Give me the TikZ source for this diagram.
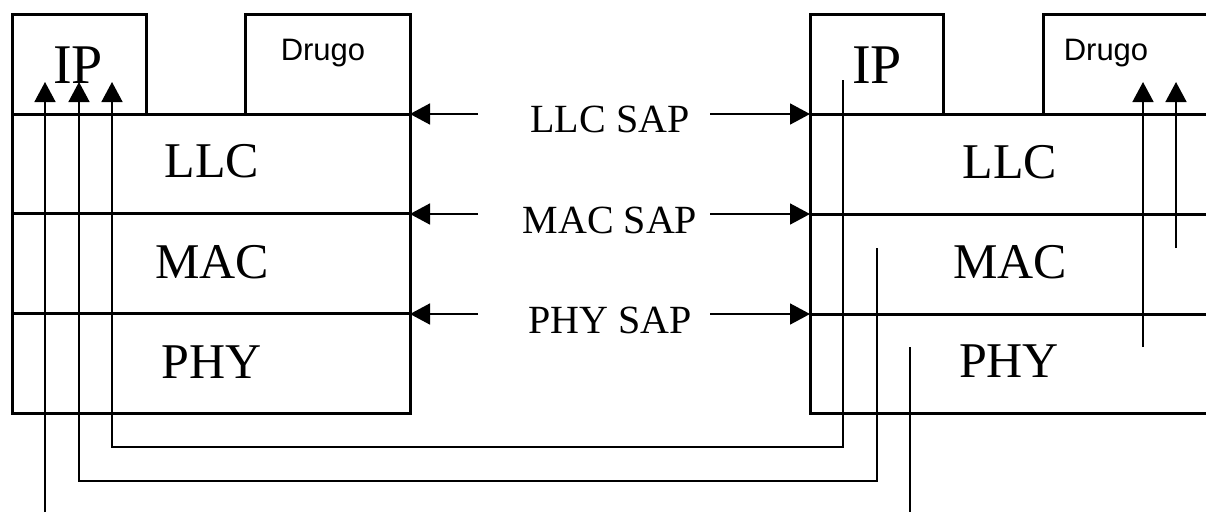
\documentclass[tikz,border=0pt]{standalone}
\usepackage{fontspec}
\newfontfamily\tnr{Liberation Serif}
\newfontfamily\arl{Liberation Sans}
\usetikzlibrary{arrows.meta}
\begin{document}
\begin{tikzpicture}[x=1pt,y=-1pt,
  box/.style={line width=3pt,line join=miter,line cap=rect},
  thin/.style={line width=1.6pt},
  arr/.style={thin,-{Triangle[length=20pt,width=21pt]}},
  lay/.style={anchor=base,inner sep=0pt,font=\tnr\fontsize{50}{60}\selectfont},
  ip/.style={anchor=base,inner sep=0pt,font=\tnr\fontsize{56}{66}\selectfont},
  sap/.style={anchor=base,inner sep=0pt,font=\tnr\fontsize{40}{48}\selectfont},
  drugo/.style={anchor=base,inner sep=0pt,font=\arl\fontsize{31}{38}\selectfont}]
\useasboundingbox (0,0) rectangle (1206,512);
\clip (0,0) rectangle (1206,512);
% left stack
\draw[box] (146,114) -- (146,14) -- (12,14) -- (12,413) -- (410,413) -- (410,14) -- (245,14) -- (245,114);
\draw[box] (12,114) -- (410,114);
\draw[box] (12,213) -- (410,213);
\draw[box] (12,313) -- (410,313);
% right stack
\draw[box] (1206,413) -- (810,413) -- (810,14) -- (943,14) -- (943,114);
\draw[box] (1206,14) -- (1043,14) -- (1043,114);
\draw[box] (810,114) -- (1206,114);
\draw[box] (810,214) -- (1206,214);
\draw[box] (810,314) -- (1206,314);
% labels
\node[ip] (ipL) at (78,83) {IP};
\node[drugo] (drL) at (323,60) {Drugo};
\node[lay] (llcL) at (212,177) {LLC};
\node[lay] (macL) at (212,278) {MAC};
\node[lay] (phyL) at (212,378) {PHY};
\node[ip] (ipR) at (877,83) {IP};
\node[drugo] (drR) at (1106,60) {Drugo};
\node[lay] (llcR) at (1010,178) {LLC};
\node[lay] (macR) at (1010,278) {MAC};
\node[lay] (phyR) at (1009,377) {PHY};
\node[sap] (llcsap) at (610,132) {LLC SAP};
\node[sap] (macsap) at (610,233) {MAC SAP};
\node[sap] (physap) at (610,333) {PHY SAP};
% SAP arrow coordinates
\coordinate (l1s) at (478,114); \coordinate (l1e) at (410,114);
\coordinate (r1s) at (710,114); \coordinate (r1e) at (810,114);
\coordinate (l2s) at (478,214); \coordinate (l2e) at (410,214);
\coordinate (r2s) at (710,214); \coordinate (r2e) at (810,214);
\coordinate (l3s) at (478,314); \coordinate (l3e) at (410,314);
\coordinate (r3s) at (710,314); \coordinate (r3e) at (810,314);
\draw[arr] (l1s) -- (l1e); \draw[arr] (r1s) -- (r1e);
\draw[arr] (l2s) -- (l2e); \draw[arr] (r2s) -- (r2e);
\draw[arr] (l3s) -- (l3e); \draw[arr] (r3s) -- (r3e);
% data paths
\coordinate (pa) at (843,80);  \coordinate (pa2) at (843,447); \coordinate (pa3) at (112,447); \coordinate (pa4) at (112,82);
\coordinate (pb) at (877,248); \coordinate (pb2) at (877,481); \coordinate (pb3) at (79,481);  \coordinate (pb4) at (79,82);
\coordinate (pc) at (910,347); \coordinate (pc2) at (910,512);
\coordinate (pd) at (45,512);  \coordinate (pd2) at (45,82);
\coordinate (q1) at (1143,347); \coordinate (q1e) at (1143,82);
\coordinate (q2) at (1176,248); \coordinate (q2e) at (1176,82);
\draw[arr] (pa) -- (pa2) -- (pa3) -- (pa4);
\draw[arr] (pb) -- (pb2) -- (pb3) -- (pb4);
\draw[thin] (pc) -- (pc2);
\draw[arr] (pd) -- (pd2);
\draw[arr] (q1) -- (q1e);
\draw[arr] (q2) -- (q2e);
\end{tikzpicture}
\end{document}
